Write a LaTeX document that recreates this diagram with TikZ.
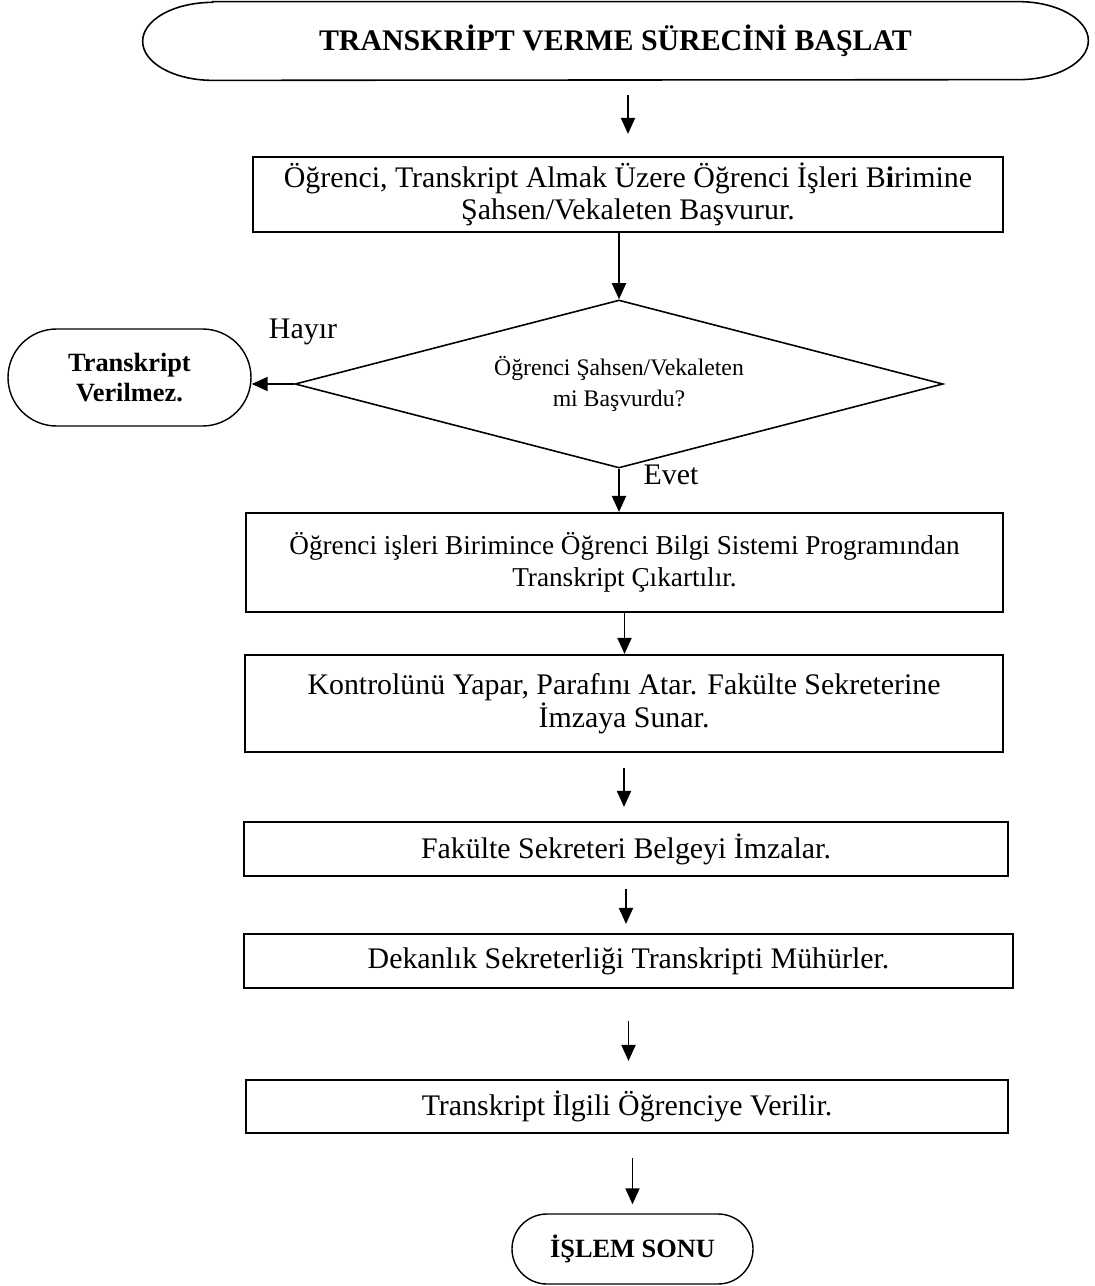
\documentclass[tikz,border=0pt]{standalone}
\usepackage{fontspec}
\setmainfont{Liberation Serif}
\usetikzlibrary{arrows.meta, positioning, shapes.geometric, shapes.misc}

\begin{document}
\begin{tikzpicture}[
  process/.style={draw, line width=1.2pt, align=center, inner sep=0pt,
                  font=\fontsize{17}{18.5}\selectfont},
  terminal/.style={draw, rounded rectangle, line width=0.8pt, align=center,
                   inner sep=0pt, font=\fontsize{15}{17}\selectfont\bfseries},
  decision/.style={draw, diamond, aspect=3.86, line width=0.9pt, align=center,
                   inner sep=0pt, font=\fontsize{13.5}{17.5}\selectfont},
  arrow/.style={-{Triangle[length=0.32cm, width=0.28cm]}, line width=1.1pt},
  answer/.style={font=\fontsize{17}{20}\selectfont}
]
  \useasboundingbox (0,0) rectangle (21.88,-25.72);

  % start
  \node[align=center, minimum width=18.9cm, minimum height=1.56cm,
        font=\fontsize{17}{20}\selectfont\bfseries] (start) at (12.31,-0.82)
        {TRANSKRİPT VERME SÜRECİNİ BAŞLAT};
  \draw[line width=0.9pt] ([xshift=1.4cm]start.north west) -- ([xshift=-1.4cm]start.north east)
    arc[start angle=90, end angle=-90, x radius=1.4cm, y radius=0.78cm]
    -- ([xshift=1.4cm]start.south west)
    arc[start angle=270, end angle=90, x radius=1.4cm, y radius=0.78cm] -- cycle;

  % steps
  \node[process, minimum width=15cm, minimum height=1.5cm] (apply) at (12.56,-3.89)
    {Öğrenci, Transkript Almak Üzere Öğrenci İşleri B\textbf{i}rimine\\ Şahsen/Vekaleten Başvurur.};
  \node[decision, minimum width=12.96cm, minimum height=3.36cm] (check) at (12.38,-7.68)
    {Öğrenci Şahsen/Vekaleten\\ mi Başvurdu?};
  \node[terminal, minimum width=4.86cm, minimum height=1.94cm] (reject) at (2.59,-7.55)
    {Transkript\\ Verilmez.};
  \node[process, minimum width=15.14cm, minimum height=1.98cm,
        font=\fontsize{15.5}{18.5}\selectfont] (print) at (12.49,-11.25)
    {Öğrenci işleri Birimince Öğrenci Bilgi Sistemi Programından\\ Transkript Çıkartılır.};
  \node[process, minimum width=15.16cm, minimum height=1.94cm] (control) at (12.48,-14.07)
    {Kontrolünü Yapar, Parafını Atar. Fakülte Sekreterine\\ İmzaya Sunar.};
  \node[process, minimum width=15.28cm, minimum height=1.08cm] (sign) at (12.52,-16.98)
    {Fakülte Sekreteri Belgeyi İmzalar.};
  \node[process, minimum width=15.38cm, minimum height=1.08cm] (seal) at (12.57,-19.22)
    {Dekanlık Sekreterliği Transkripti Mühürler.};
  \node[process, minimum width=15.24cm, minimum height=1.06cm] (deliver) at (12.54,-22.13)
    {Transkript İlgili Öğrenciye Verilir.};
  \node[terminal, minimum width=4.82cm, minimum height=1.4cm] (finish) at (12.65,-24.98)
    {İŞLEM SONU};

  % connectors
  \draw[arrow, shorten <=0.3cm, shorten >=0.44cm] (start.south -| apply.north) -- (apply.north);
  \draw[arrow] (apply.south -| check.north) -- (check.north);
  \draw[arrow] (check.south) -- (check.south |- print.north);
  \draw[arrow] (print.south) -- (print.south |- control.north);
  \draw[arrow, shorten <=0.3cm, shorten >=0.28cm] (control.south) -- (control.south |- sign.north);
  \draw[arrow, shorten <=0.24cm, shorten >=0.18cm] (sign.south) -- (sign.south |- seal.north);
  \draw[arrow, shorten <=0.64cm, shorten >=0.36cm] (seal.south) -- (seal.south |- deliver.north);
  \draw[arrow, shorten <=0.48cm, shorten >=0.18cm] (deliver.south -| finish.north) -- (finish.north);
  \draw[arrow] (check.west) -- (reject.east |- check.west);

  \node[answer] (hayir) at (6.06,-6.64) {Hayır};
  \node[answer] (evet) at (13.42,-9.5) {Evet};
\end{tikzpicture}
\end{document}
